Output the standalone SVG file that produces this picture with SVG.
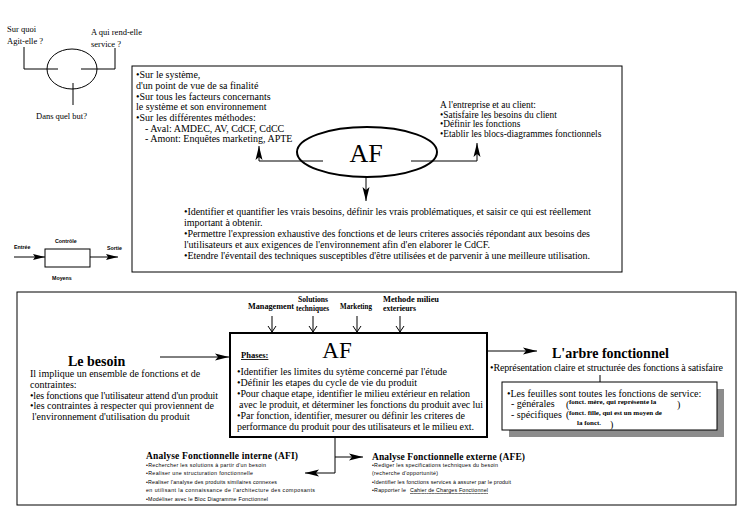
<svg xmlns="http://www.w3.org/2000/svg" width="740" height="513" viewBox="0 0 740 513">
<style>
.s{font-family:"Liberation Serif","Times New Roman",serif;font-size:10px;fill:#000}
.sb{font-family:"Liberation Serif","Times New Roman",serif;font-weight:bold;fill:#000}
.t{font-family:"Liberation Sans",Arial,sans-serif;font-size:5.3px;fill:#000}
.ln{fill:none;stroke:#000;stroke-width:1}
.box{fill:#fff;stroke:#000;stroke-width:1}
</style>
<defs>
<marker id="ah" markerWidth="14" markerHeight="10" refX="14" refY="5" orient="auto" markerUnits="userSpaceOnUse"><path d="M0,1.5 L14,5 L0,8.5 L3,5 Z" fill="#000"/></marker>
<marker id="ahs" markerWidth="12" markerHeight="8" refX="12" refY="4" orient="auto" markerUnits="userSpaceOnUse"><path d="M0,1 L12,4 L0,7 L2,4 Z" fill="#000"/></marker>
<marker id="ao" markerWidth="8" markerHeight="10" refX="7" refY="5" orient="auto" markerUnits="userSpaceOnUse"><path d="M1,1 L7,5 L1,9" fill="none" stroke="#000" stroke-width="1"/></marker>
</defs>
<rect width="740" height="513" fill="#fff"/>

<g id="bete-a-cornes">
<ellipse cx="72" cy="69" rx="25" ry="20" class="ln"/>
<polyline points="24,47 24,69 58,69" class="ln"/>
<polyline points="81,69 115,69 115,48" class="ln"/>
<line x1="73" y1="83" x2="73" y2="105" class="ln"/>
<text class="s" x="7" y="32" style="font-size:8.5px">Sur quoi</text>
<text class="s" x="7" y="44" style="font-size:8.5px">Agit-elle ?</text>
<text class="s" x="91" y="35" style="font-size:8.5px">A qui rend-elle</text>
<text class="s" x="91" y="47" style="font-size:8.5px">service ?</text>
<text class="s" x="36" y="119" style="font-size:8.5px">Dans quel but?</text>
</g>

<g id="systeme">
<text class="t" x="14" y="249" font-weight="bold">Entrée</text>
<text class="t" x="55" y="243" font-weight="bold">Contrôle</text>
<text class="t" x="107" y="250" font-weight="bold">Sortie</text>
<text class="t" x="52" y="280" font-weight="bold">Moyens</text>
<rect x="45" y="249" width="45" height="18" class="box"/>
</g>

<g id="top-box">
<rect x="132" y="66" width="490" height="206" class="box"/>
<text class="s" x="136" y="78">•Sur le système,</text>
<text class="s" x="136" y="89">d'un point de vue de sa finalité</text>
<text class="s" x="136" y="100">•Sur tous les facteurs concernants</text>
<text class="s" x="136" y="110">le système et son environnement</text>
<text class="s" x="136" y="121">•Sur les différentes méthodes:</text>
<text class="s" x="145" y="132">- Aval: AMDEC, AV, CdCF, CdCC</text>
<text class="s" x="145" y="142">- Amont: Enquêtes marketing, APTE</text>
<text class="s" x="440" y="108" style="font-size:9.4px">A l'entreprise et au client:</text>
<text class="s" x="440" y="117.5" style="font-size:9.4px">•Satisfaire les besoins du client</text>
<text class="s" x="440" y="127" style="font-size:9.4px">•Définir les fonctions</text>
<text class="s" x="440" y="136.5" style="font-size:9.4px">•Etablir les blocs-diagrammes fonctionnels</text>
<text class="s" x="184" y="215" textLength="407" lengthAdjust="spacing">•Identifier et quantifier les vrais besoins, définir les vrais problématiques, et saisir ce qui est réellement</text>
<text class="s" x="184" y="226">important à obtenir.</text>
<text class="s" x="184" y="237" textLength="406" lengthAdjust="spacing">•Permettre l'expression exhaustive des fonctions et de leurs criteres associés répondant aux besoins des</text>
<text class="s" x="184" y="248">l'utilisateurs et aux exigences de l'environnement afin d'en elaborer le CdCF.</text>
<text class="s" x="184" y="259" textLength="406" lengthAdjust="spacing">•Etendre l'éventail des techniques susceptibles d'être utilisées et de parvenir à une meilleure utilisation.</text>
</g>

<g id="af-ellipse">
<ellipse cx="367" cy="152" rx="70" ry="25" fill="#fff" stroke="#000" stroke-width="2"/>
<text class="s" x="366" y="162" text-anchor="middle" style="font-size:26px">AF</text>
</g>

<g id="bottom-box">
<rect x="17" y="292" width="719" height="213" class="box"/>
<text class="sb" x="248" y="309" font-size="7.5" textLength="46" lengthAdjust="spacingAndGlyphs">Management</text>
<text class="sb" x="298" y="302" font-size="7.5" textLength="30" lengthAdjust="spacingAndGlyphs">Solutions</text>
<text class="sb" x="296" y="311" font-size="7.5" textLength="33" lengthAdjust="spacingAndGlyphs">techniques</text>
<text class="sb" x="340" y="309" font-size="7.5" textLength="32" lengthAdjust="spacingAndGlyphs">Marketing</text>
<text class="sb" x="383" y="302" font-size="7.5" textLength="56" lengthAdjust="spacingAndGlyphs">Methode milieu</text>
<text class="sb" x="383" y="311" font-size="7.5" textLength="33" lengthAdjust="spacingAndGlyphs">exterieurs</text>
</g>

<g id="besoin">
<text class="sb" x="68" y="366" font-size="14">Le besoin</text>
<text class="s" x="30" y="377">Il implique un ensemble de fonctions et de</text>
<text class="s" x="30" y="388">contraintes:</text>
<text class="s" x="30" y="398.5" textLength="188" lengthAdjust="spacing">•les fonctions que l'utilisateur attend d'un produit</text>
<text class="s" x="30" y="409">•les contraintes à respecter qui proviennent de</text>
<text class="s" x="32" y="419.5">l'environnement d'utilisation du produit</text>
</g>

<g id="phases">
<rect x="230" y="333" width="257" height="104" fill="#fff" stroke="#000" stroke-width="2"/>
<text class="sb" x="241" y="358" font-size="8.5" text-decoration="underline">Phases:</text>
<text class="s" x="337" y="358" text-anchor="middle" style="font-size:23px">AF</text>
<text class="s" x="237" y="375">•Identifier les limites du sytème concerné par l'étude</text>
<text class="s" x="237" y="386">•Définir les etapes du cycle de vie du produit</text>
<text class="s" x="237" y="397" textLength="233" lengthAdjust="spacing">•Pour chaque etape, identifier le milieu extérieur en relation</text>
<text class="s" x="239" y="408" textLength="244" lengthAdjust="spacing">avec le produit, et déterminer les fonctions du produit avec lui</text>
<text class="s" x="237" y="419" textLength="228" lengthAdjust="spacing">•Par fonction, identifier, mesurer ou définir les criteres de</text>
<text class="s" x="237" y="430" textLength="237" lengthAdjust="spacing">performance du produit pour des utilisateurs et le milieu ext.</text>
</g>

<g id="arbre">
<text class="sb" x="552" y="358" font-size="14">L'arbre fonctionnel</text>
<text class="s" x="490" y="371" textLength="233" lengthAdjust="spacing">•Représentation claire et structurée des fonctions à satisfaire</text>
<rect x="509" y="389" width="215" height="48" fill="#8c8c8c"/>
<rect x="502" y="382" width="215" height="48" class="box"/>
<text class="s" x="507" y="397">•Les feuilles sont toutes les fonctions de service:</text>
<text class="s" x="511" y="407">- générales</text>
<text class="s" x="511" y="418">- spécifiques</text>
<text class="s" x="566" y="408">(</text>
<text class="s" x="566" y="418">(</text>
<text class="sb" x="569" y="404" font-size="7">fonct. mère, qui représente la</text>
<text class="s" x="677" y="408">)</text>
<text class="sb" x="569" y="415" font-size="7">fonct. fille, qui est un moyen de</text>
<text class="sb" x="577" y="425" font-size="7">la fonct.</text>
<text class="s" x="610" y="428">)</text>
</g>

<g id="afi">
<text class="sb" x="146" y="459" font-size="9.5" textLength="152" lengthAdjust="spacing">Analyse Fonctionnelle interne (AFI)</text>
<text class="t" x="146" y="467" textLength="120">•Rechercher les solutions à partir d'un besoin</text>
<text class="t" x="146" y="475" textLength="107">•Realiser une structuration fonctionnelle</text>
<text class="t" x="146" y="484" textLength="131">•Realiser l'analyse des produits similaires connexes</text>
<text class="t" x="146" y="492" textLength="169">en utilisant la connaissance de l'architecture des composants</text>
<text class="t" x="146" y="501" textLength="122">•Modéliser avec   le Bloc Diagramme Fonctionnel</text>
</g>

<g id="afe">
<text class="sb" x="372" y="460" font-size="9.5" textLength="153" lengthAdjust="spacing">Analyse Fonctionnelle externe (AFE)</text>
<text class="t" x="372" y="467" textLength="126">•Rediger les specifications techniques du besoin</text>
<text class="t" x="372" y="475" textLength="66">(recherche d'opportunité)</text>
<text class="t" x="372" y="484" textLength="139">•Identifier les fonctions services à assurer par le produit</text>
<text class="t" x="372" y="492" textLength="34">•Rapporter le</text>
<text class="t" x="410" y="492" textLength="78" text-decoration="underline">Cahier de Charges Fonctionnel</text>
</g>

<g id="connectors">
<line x1="14" y1="257" x2="45" y2="257" class="ln" marker-end="url(#ahs)"/>
<line x1="90" y1="257" x2="118" y2="257" class="ln" marker-end="url(#ahs)"/>
<line x1="259" y1="161" x2="323" y2="161" class="ln"/>
<line x1="259" y1="161" x2="259" y2="146" class="ln" marker-end="url(#ah)"/>
<line x1="411" y1="161" x2="477" y2="161" class="ln"/>
<line x1="477" y1="161" x2="477" y2="143" class="ln" marker-end="url(#ah)"/>
<line x1="366" y1="176" x2="366" y2="201" class="ln" marker-end="url(#ah)"/>
<line x1="272" y1="316" x2="272" y2="332" class="ln" marker-end="url(#ao)"/>
<line x1="313" y1="316" x2="313" y2="332" class="ln" marker-end="url(#ao)"/>
<line x1="357" y1="316" x2="357" y2="332" class="ln" marker-end="url(#ao)"/>
<line x1="400" y1="316" x2="400" y2="332" class="ln" marker-end="url(#ao)"/>
<line x1="160" y1="357" x2="229" y2="357" class="ln" marker-end="url(#ah)"/>
<line x1="488" y1="351" x2="537" y2="351" class="ln" marker-end="url(#ah)"/>
<line x1="600" y1="375" x2="600" y2="382" class="ln"/>
<polyline points="335,438 335,473 305,473" class="ln" marker-end="url(#ah)"/>
<line x1="335" y1="457" x2="363" y2="457" class="ln" marker-end="url(#ah)"/>
</g>
</svg>
